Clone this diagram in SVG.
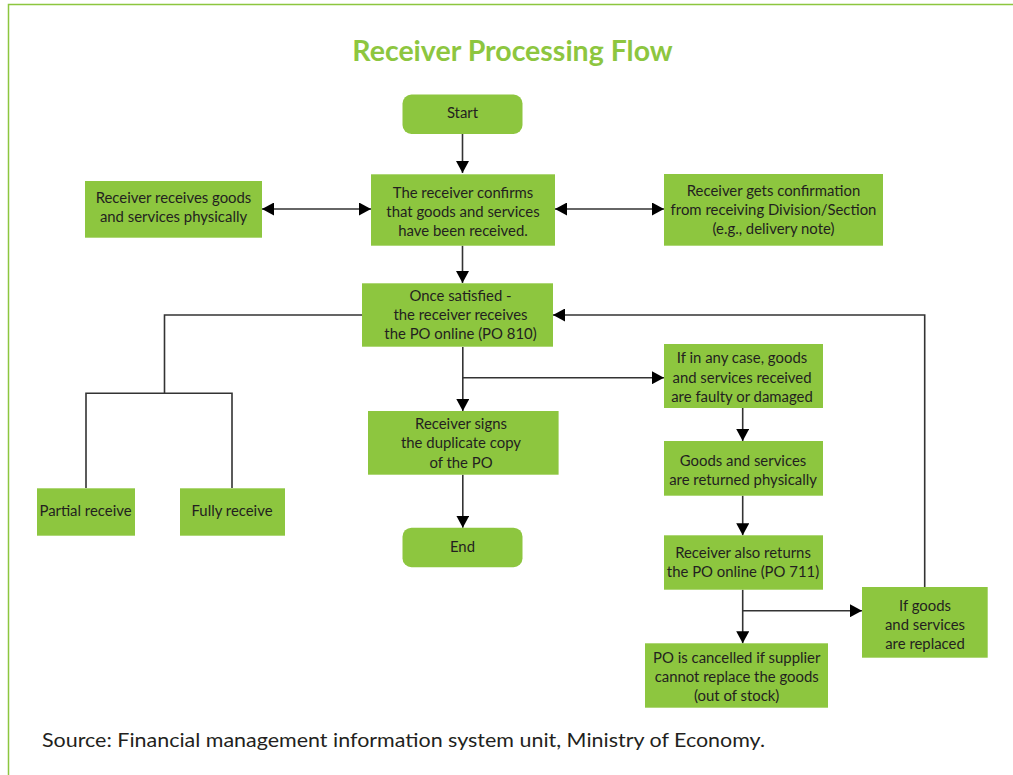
<svg xmlns="http://www.w3.org/2000/svg" width="1013" height="775" viewBox="0 0 1013 775">
<style>
.box{fill:#8dc63f;}
.t{font-family:Lato,"Liberation Sans",sans-serif;font-size:14.9px;fill:#231f20;text-anchor:middle;}
.c{fill:none;stroke:#333;stroke-width:1.6;}
.title{font-family:Lato,"Liberation Sans",sans-serif;font-size:28.5px;font-weight:bold;fill:#8dc63f;text-anchor:middle;}
.src{font-family:Lato,"Liberation Sans",sans-serif;font-size:20px;fill:#231f20;}
</style>
<defs>
<marker id="ah" markerUnits="userSpaceOnUse" markerWidth="13" markerHeight="13" refX="12" refY="6.5" orient="auto-start-reverse" viewBox="0 0 13 13">
<path d="M0,0 L12,6.5 L0,13 z" fill="#000"/>
</marker>
</defs>
<rect width="1013" height="775" fill="#fff"/>
<path d="M8.5,775 V4.5 H1013" fill="none" stroke="#8dc63f" stroke-width="1.5"/>
<text class="title" x="512.5" y="61">Receiver Processing Flow</text>

<g id="connectors">
<path class="c" d="M462.5,134 V173" marker-end="url(#ah)"/>
<path class="c" d="M262,209 H371" marker-start="url(#ah)" marker-end="url(#ah)"/>
<path class="c" d="M555,209 H664" marker-start="url(#ah)" marker-end="url(#ah)"/>
<path class="c" d="M462.5,245.7 V283" marker-end="url(#ah)"/>
<path class="c" d="M362,315 H164.5 V393.3"/>
<path class="c" d="M86,488 V393.3 H232 V488"/>
<path class="c" d="M462.8,347 V411" marker-end="url(#ah)"/>
<path class="c" d="M462.8,377.7 H664" marker-end="url(#ah)"/>
<path class="c" d="M462.8,474.7 V527.7" marker-end="url(#ah)"/>
<path class="c" d="M742.7,408 V441" marker-end="url(#ah)"/>
<path class="c" d="M742.7,495.7 V535.3" marker-end="url(#ah)"/>
<path class="c" d="M742.7,589.7 V643.3" marker-end="url(#ah)"/>
<path class="c" d="M742.7,610.7 H862" marker-end="url(#ah)"/>
<path class="c" d="M924.7,587 V315 H553" marker-end="url(#ah)"/>
</g>

<g id="start">
<rect class="box" x="402.5" y="94.5" width="120" height="39.5" rx="9"/>
<text class="t" x="462.5" y="118">Start</text>
</g>
<g id="confirm">
<rect class="box" x="371" y="174.3" width="184" height="71.4"/>
<text class="t" x="463" y="198">The receiver confirms</text>
<text class="t" x="463" y="217.3">that goods and services</text>
<text class="t" x="463" y="236.3">have been received.</text>
</g>
<g id="physical">
<rect class="box" x="85" y="181" width="177" height="56.7"/>
<text class="t" x="173.5" y="203.3">Receiver receives goods</text>
<text class="t" x="173.5" y="222">and services physically</text>
</g>
<g id="division">
<rect class="box" x="664" y="174" width="219" height="71.7"/>
<text class="t" x="773.5" y="196">Receiver gets confirmation</text>
<text class="t" x="773.5" y="215">from receiving Division/Section</text>
<text class="t" x="773.5" y="234">(e.g., delivery note)</text>
</g>
<g id="once">
<rect class="box" x="362" y="283.3" width="191" height="63.4"/>
<text class="t" x="460.5" y="300.7">Once satisfied -</text>
<text class="t" x="460.5" y="320">the receiver receives</text>
<text class="t" x="460.5" y="339.3">the PO online (PO 810)</text>
</g>
<g id="partial">
<rect class="box" x="37" y="488.3" width="98" height="47.4"/>
<text class="t" x="85.5" y="516">Partial receive</text>
</g>
<g id="fully">
<rect class="box" x="180" y="488.3" width="105" height="47.4"/>
<text class="t" x="232" y="516">Fully receive</text>
</g>
<g id="signs">
<rect class="box" x="368" y="411" width="190.6" height="63.7"/>
<text class="t" x="461" y="429">Receiver signs</text>
<text class="t" x="461" y="448.3">the duplicate copy</text>
<text class="t" x="461" y="467.7">of the PO</text>
</g>
<g id="end">
<rect class="box" x="402.5" y="527.7" width="120" height="39.5" rx="9"/>
<text class="t" x="462.5" y="551.7">End</text>
</g>
<g id="faulty">
<rect class="box" x="664" y="344" width="159" height="64"/>
<text class="t" x="742" y="363.3">If in any case, goods</text>
<text class="t" x="742" y="382.7">and services received</text>
<text class="t" x="742" y="402">are faulty or damaged</text>
</g>
<g id="returned">
<rect class="box" x="664" y="441" width="159" height="54.7"/>
<text class="t" x="743" y="466">Goods and services</text>
<text class="t" x="743" y="485">are returned physically</text>
</g>
<g id="alsoreturns">
<rect class="box" x="664" y="535.3" width="159" height="54.4"/>
<text class="t" x="743" y="557.7">Receiver also returns</text>
<text class="t" x="743" y="576.7">the PO online (PO 711)</text>
</g>
<g id="replaced">
<rect class="box" x="862" y="587" width="125.7" height="70.7"/>
<text class="t" x="925" y="611">If goods</text>
<text class="t" x="925" y="630">and services</text>
<text class="t" x="925" y="649">are replaced</text>
</g>
<g id="cancelled">
<rect class="box" x="645" y="643.3" width="183" height="64.4"/>
<text class="t" x="736.7" y="663.3">PO is cancelled if supplier</text>
<text class="t" x="736.7" y="682.3">cannot replace the goods</text>
<text class="t" x="736.7" y="701.3">(out of stock)</text>
</g>

<text class="src" x="42" y="747" textLength="723" lengthAdjust="spacingAndGlyphs">Source: Financial management information system unit, Ministry of Economy.</text>
</svg>
